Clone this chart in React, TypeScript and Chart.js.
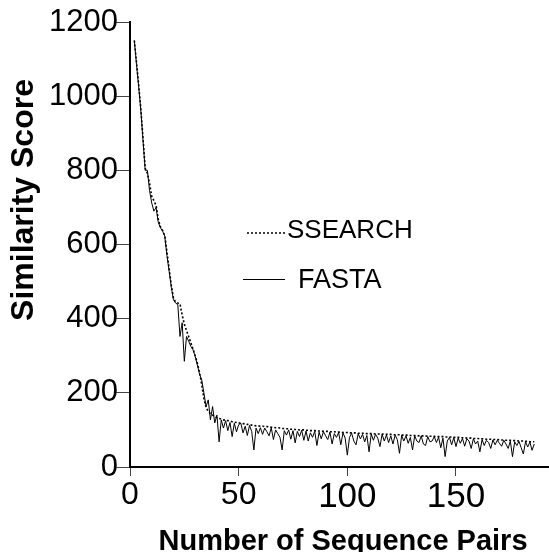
import React, { useEffect, useRef } from "react";
import { Chart, registerables } from "chart.js";

Chart.register(...registerables);

// First sequence-pair number plotted (x of the first value)
const START_INDEX = 2;

// SSEARCH similarity scores, pairs 2..186
const SSEARCH_SCORES = [
  1150, 1090, 1030, 965, 885, 805, 792, 765, 730,
  718, 705, 668, 648, 638, 624, 580, 535, 490, 455,
  445, 442, 440, 410, 385, 368, 352, 335, 318, 300,
  280, 255, 222, 185, 160, 150, 144, 140, 136, 133,
  131, 129, 127, 126, 125, 124, 122, 121, 120, 119,
  118, 117, 116, 115, 114, 113, 112, 111, 111, 110,
  110, 109, 109, 108, 107, 107, 106, 106, 105, 104,
  104, 103, 103, 102, 102, 101, 101, 100, 100, 100,
  99, 99, 98, 98, 98, 97, 97, 97, 96, 96,
  96, 95, 95, 95, 94, 94, 94, 93, 93, 93,
  92, 92, 92, 92, 91, 91, 91, 91, 90, 90,
  90, 90, 89, 89, 89, 89, 88, 88, 88, 88,
  87, 87, 87, 87, 86, 86, 86, 86, 85, 85,
  85, 85, 84, 84, 84, 84, 83, 83, 83, 83,
  82, 82, 82, 82, 81, 81, 81, 81, 80, 80,
  80, 79, 79, 79, 78, 78, 78, 77, 77, 77,
  76, 76, 76, 75, 75, 75, 74, 74, 74, 73,
  73, 73, 72, 72, 72, 71, 71, 71, 70, 70,
  70, 69, 69, 68, 68, 68,
];

// FASTA similarity scores, pairs 2..186
const FASTA_SCORES = [
  1150, 1085, 1025, 960, 880, 800, 800, 745, 712,
  690, 700, 660, 645, 636, 622, 570, 528, 485, 451,
  442, 438, 352, 389, 285, 352, 339, 325, 316, 298,
  275, 250, 235, 200, 163, 181, 127, 163, 119, 140,
  68, 127, 105, 125, 98, 120, 82, 118, 95, 114,
  118, 92, 110, 85, 112, 96, 46, 105, 90, 106,
  88, 105, 95, 84, 106, 74, 100, 90, 80, 46,
  98, 86, 100, 75, 98, 65, 96, 82, 99, 72,
  97, 70, 92, 80, 96, 58, 94, 76, 95, 84,
  74, 94, 62, 90, 80, 93, 60, 92, 78, 32,
  80, 91, 70, 60, 90, 76, 88, 68, 85, 41,
  89, 72, 88, 78, 55, 88, 70, 86, 66, 84,
  62, 86, 74, 37, 85, 70, 84, 64, 80, 46,
  84, 70, 66, 84, 62, 58, 82, 68, 70, 82,
  66, 80, 52, 78, 28, 70, 80, 60, 79, 55,
  78, 64, 77, 56, 76, 70, 50, 76, 62, 70,
  41, 74, 58, 72, 66, 50, 73, 60, 72, 64,
  56, 72, 62, 50, 70, 28, 68, 58, 69, 52,
  35, 68, 54, 67, 45, 62,
];

const X_TICKS = [0, 50, 100, 150];
const Y_TICKS = [0, 200, 400, 600, 800, 1000, 1200];
const X_TITLE = "Number of Sequence Pairs";
const Y_TITLE = "Similarity Score";
const SERIES_NAMES = ["SSEARCH", "FASTA"];

const FONT = '"Liberation Sans", Arial, Helvetica, sans-serif';

export default function App() {
  const ref = useRef<HTMLCanvasElement>(null);

  useEffect(() => {
    if (!ref.current) return;
    const toPts = (arr: number[]) =>
      arr.map((v, i) => ({ x: START_INDEX + i, y: v }));

    const overlay = {
      id: "overlay",
      afterDraw(chart: any) {
        const ctx = chart.ctx as CanvasRenderingContext2D;
        ctx.save();
        ctx.fillStyle = "#000";
        // y-axis title
        ctx.font = `bold 32px ${FONT}`;
        ctx.textAlign = "center";
        ctx.textBaseline = "alphabetic";
        ctx.translate(33, 200);
        ctx.rotate(-Math.PI / 2);
        ctx.fillText(Y_TITLE, 0, 0);
        ctx.restore();

        ctx.save();
        ctx.fillStyle = "#000";
        // x-axis title
        ctx.font = `bold 29px ${FONT}`;
        ctx.textAlign = "center";
        ctx.textBaseline = "alphabetic";
        ctx.fillText(X_TITLE, 343, 550);

        // legend
        ctx.strokeStyle = "#000";
        ctx.lineWidth = 1.5;
        ctx.setLineDash([2, 2]);
        ctx.beginPath();
        ctx.moveTo(247, 233);
        ctx.lineTo(286, 233);
        ctx.stroke();
        ctx.setLineDash([]);
        ctx.lineWidth = 1;
        ctx.beginPath();
        ctx.moveTo(243, 279.5);
        ctx.lineTo(285, 279.5);
        ctx.stroke();

        ctx.textAlign = "left";
        ctx.font = `26px ${FONT}`;
        ctx.fillText(SERIES_NAMES[0], 287, 238);
        ctx.font = `27px ${FONT}`;
        ctx.fillText(SERIES_NAMES[1], 298, 288);
        ctx.restore();
      },
    };

    const chart = new Chart(ref.current, {
      type: "line",
      data: {
        datasets: [
          {
            label: SERIES_NAMES[0],
            data: toPts(SSEARCH_SCORES),
            borderColor: "#000",
            borderWidth: 1.6,
            borderDash: [2, 2],
            pointRadius: 0,
            fill: false,
            tension: 0,
            order: 0,
          },
          {
            label: SERIES_NAMES[1],
            data: toPts(FASTA_SCORES),
            borderColor: "#000",
            borderWidth: 1,
            pointRadius: 0,
            fill: false,
            tension: 0,
            order: 1,
          },
        ],
      },
      options: {
        animation: false,
        responsive: false,
        events: [],
        layout: { padding: { top: 22, right: 0, left: 0, bottom: 0 } },
        plugins: {
          legend: { display: false },
          tooltip: { enabled: false },
          title: { display: false },
        },
        scales: {
          x: {
            type: "linear",
            min: 0,
            max: 192.8,
            afterFit(s: any) {
              s.height = 85;
            },
            afterBuildTicks(s: any) {
              s.ticks = X_TICKS.map((v) => ({ value: v }));
            },
            ticks: {
              color: "#000",
              padding: 0,
              maxRotation: 0,
              autoSkip: false,
              callback: (v: any) => String(v),
              font: (c: any) => ({
                family: FONT,
                size: c.tick && c.tick.value >= 100 ? 35 : 32,
              }),
            },
            grid: {
              drawOnChartArea: false,
              drawTicks: true,
              tickLength: 9,
              tickColor: "#444",
              tickWidth: 1,
            },
            border: { display: true, color: "#000", width: 2 },
          },
          y: {
            type: "linear",
            min: 0,
            max: 1200,
            afterFit(s: any) {
              s.width = 130;
            },
            afterBuildTicks(s: any) {
              s.ticks = Y_TICKS.map((v) => ({ value: v }));
            },
            ticks: {
              color: "#000",
              padding: -2,
              callback: (v: any) => String(v),
              font: { family: FONT, size: 31 },
            },
            grid: {
              drawOnChartArea: false,
              drawTicks: true,
              tickLength: 14,
              tickColor: "#444",
              tickWidth: 1,
            },
            border: { display: true, color: "#000", width: 2 },
          },
        },
      },
      plugins: [overlay],
    } as any);

    return () => chart.destroy();
  }, []);

  return (
    <div style={{ position: "absolute", left: 0, top: 0, width: 549, height: 552 }}>
      <canvas ref={ref} width={549} height={552} style={{ display: "block" }} />
    </div>
  );
}
